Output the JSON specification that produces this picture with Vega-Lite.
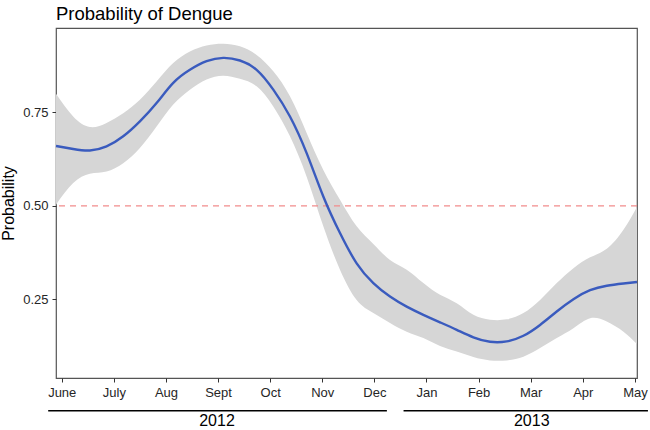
{
  "$schema": "https://vega.github.io/schema/vega-lite/v6.json",
  "width": 581,
  "height": 350,
  "autosize": {"type": "none"},
  "padding": {"left": 56, "top": 28, "right": 13, "bottom": 52},
  "background": "white",
  "config": {
    "view": {"stroke": "#555555", "strokeWidth": 1.2},
    "font": "Liberation Sans",
    "axis": {
      "domain": false,
      "grid": false,
      "tickColor": "#333333",
      "tickSize": 4,
      "tickWidth": 1,
      "labelFont": "Liberation Sans",
      "labelFontSize": 13,
      "labelColor": "#262626",
      "titleFont": "Liberation Sans",
      "titleFontWeight": "normal",
      "titleColor": "#000000"
    }
  },
  "title": {
    "text": "Probability of Dengue",
    "anchor": "start",
    "frame": "group",
    "font": "Liberation Sans",
    "fontSize": 18.5,
    "fontWeight": "normal",
    "color": "#000000",
    "offset": 5
  },
  "datasets": {
    "smooth": [
      {"month": -0.11, "fit": 0.660, "lower": 0.503, "upper": 0.800},
      {"month": 0.22, "fit": 0.652, "lower": 0.561, "upper": 0.739},
      {"month": 0.54, "fit": 0.648, "lower": 0.586, "upper": 0.711},
      {"month": 0.86, "fit": 0.659, "lower": 0.592, "upper": 0.722},
      {"month": 1.18, "fit": 0.686, "lower": 0.614, "upper": 0.748},
      {"month": 1.50, "fit": 0.726, "lower": 0.655, "upper": 0.784},
      {"month": 1.82, "fit": 0.775, "lower": 0.712, "upper": 0.833},
      {"month": 2.14, "fit": 0.829, "lower": 0.771, "upper": 0.882},
      {"month": 2.46, "fit": 0.864, "lower": 0.811, "upper": 0.913},
      {"month": 2.78, "fit": 0.887, "lower": 0.838, "upper": 0.929},
      {"month": 3.10, "fit": 0.896, "lower": 0.848, "upper": 0.934},
      {"month": 3.42, "fit": 0.889, "lower": 0.840, "upper": 0.927},
      {"month": 3.74, "fit": 0.864, "lower": 0.820, "upper": 0.904},
      {"month": 4.06, "fit": 0.811, "lower": 0.766, "upper": 0.860},
      {"month": 4.38, "fit": 0.739, "lower": 0.686, "upper": 0.793},
      {"month": 4.70, "fit": 0.641, "lower": 0.578, "upper": 0.695},
      {"month": 5.02, "fit": 0.525, "lower": 0.445, "upper": 0.596},
      {"month": 5.34, "fit": 0.427, "lower": 0.329, "upper": 0.516},
      {"month": 5.66, "fit": 0.346, "lower": 0.248, "upper": 0.445},
      {"month": 5.98, "fit": 0.293, "lower": 0.213, "upper": 0.398},
      {"month": 6.30, "fit": 0.257, "lower": 0.186, "upper": 0.355},
      {"month": 6.62, "fit": 0.230, "lower": 0.163, "upper": 0.329},
      {"month": 6.94, "fit": 0.208, "lower": 0.146, "upper": 0.293},
      {"month": 7.26, "fit": 0.188, "lower": 0.125, "upper": 0.262},
      {"month": 7.58, "fit": 0.168, "lower": 0.110, "upper": 0.239},
      {"month": 7.90, "fit": 0.148, "lower": 0.095, "upper": 0.208},
      {"month": 8.22, "fit": 0.136, "lower": 0.086, "upper": 0.195},
      {"month": 8.54, "fit": 0.137, "lower": 0.086, "upper": 0.196},
      {"month": 8.86, "fit": 0.152, "lower": 0.096, "upper": 0.213},
      {"month": 9.18, "fit": 0.181, "lower": 0.119, "upper": 0.248},
      {"month": 9.50, "fit": 0.217, "lower": 0.146, "upper": 0.293},
      {"month": 9.82, "fit": 0.250, "lower": 0.172, "upper": 0.333},
      {"month": 10.14, "fit": 0.274, "lower": 0.199, "upper": 0.362},
      {"month": 10.46, "fit": 0.286, "lower": 0.190, "upper": 0.385},
      {"month": 10.78, "fit": 0.292, "lower": 0.163, "upper": 0.436},
      {"month": 11.04, "fit": 0.296, "lower": 0.130, "upper": 0.497}
    ],
    "threshold": [{"level": 0.5}],
    "years": [
      {"year": "2012", "start": -0.26, "end": 6.24, "mid": 2.98},
      {"year": "2013", "start": 6.56, "end": 11.25, "mid": 9.02}
    ]
  },
  "layer": [
    {
      "data": {"name": "smooth"},
      "mark": {"type": "area", "color": "#d6d6d6", "opacity": 1, "interpolate": "natural"},
      "encoding": {
        "x": {
          "field": "month",
          "type": "quantitative",
          "scale": {"domain": [-0.11, 11.04], "nice": false, "zero": false},
          "axis": {
            "title": null,
            "values": [0, 1, 2, 3, 4, 5, 6, 7, 8, 9, 10, 11],
            "labelExpr": "['June','July','Aug','Sept','Oct','Nov','Dec','Jan','Feb','Mar','Apr','May'][datum.value]",
            "labelPadding": 4,
            "labelFlush": false,
            "labelOverlap": false
          }
        },
        "y": {
          "field": "lower",
          "type": "quantitative",
          "scale": {"domain": [0.039, 0.976], "nice": false, "zero": false},
          "axis": {
            "title": "Probability",
            "titleFontSize": 16,
            "titlePadding": 6,
            "values": [0.25, 0.5, 0.75],
            "format": ".2f",
            "labelPadding": 4
          }
        },
        "y2": {"field": "upper"}
      }
    },
    {
      "data": {"name": "threshold"},
      "mark": {"type": "rule", "color": "#f28c8c", "strokeWidth": 1.2, "strokeDash": [6, 5]},
      "encoding": {"y": {"field": "level", "type": "quantitative"}}
    },
    {
      "data": {"name": "smooth"},
      "mark": {"type": "line", "color": "#3a5bbe", "strokeWidth": 2.4, "interpolate": "natural"},
      "encoding": {
        "x": {"field": "month", "type": "quantitative"},
        "y": {"field": "fit", "type": "quantitative"}
      }
    },
    {
      "data": {"name": "years"},
      "mark": {"type": "rule", "color": "#000000", "strokeWidth": 1.5, "clip": false},
      "encoding": {
        "x": {"field": "start", "type": "quantitative"},
        "x2": {"field": "end"},
        "y": {"datum": -0.049}
      }
    },
    {
      "data": {"name": "years"},
      "mark": {"type": "text", "color": "#000000", "fontSize": 16, "font": "Liberation Sans", "baseline": "alphabetic", "align": "center", "clip": false},
      "encoding": {
        "x": {"field": "mid", "type": "quantitative"},
        "y": {"datum": -0.089},
        "text": {"field": "year"}
      }
    }
  ]
}
